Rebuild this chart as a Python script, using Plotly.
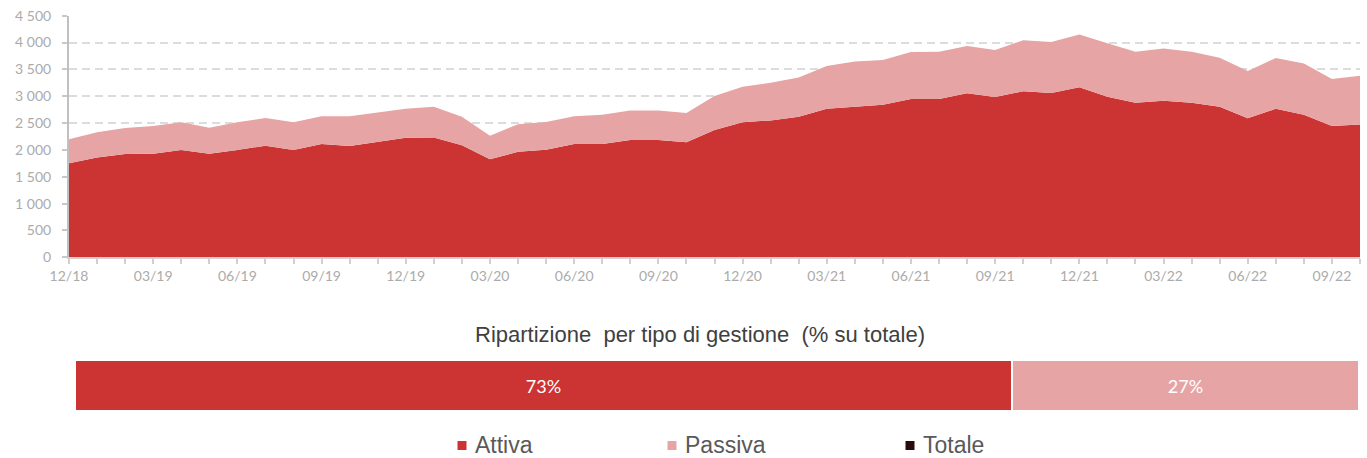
import plotly.graph_objects as go

W, H = 1367, 458

months = ["12/18",
          "01/19", "02/19", "03/19", "04/19", "05/19", "06/19", "07/19", "08/19", "09/19", "10/19", "11/19", "12/19",
          "01/20", "02/20", "03/20", "04/20", "05/20", "06/20", "07/20", "08/20", "09/20", "10/20", "11/20", "12/20",
          "01/21", "02/21", "03/21", "04/21", "05/21", "06/21", "07/21", "08/21", "09/21", "10/21", "11/21", "12/21",
          "01/22", "02/22", "03/22", "04/22", "05/22", "06/22", "07/22", "08/22", "09/22", "10/22"]

attiva = [1750, 1860, 1925, 1930, 2000, 1930, 2000, 2080, 2000, 2110, 2075, 2155, 2225,
          2230, 2085, 1825, 1965, 2005, 2110, 2110, 2185, 2185, 2145, 2370, 2515,
          2550, 2620, 2765, 2805, 2840, 2950, 2950, 3055, 2985, 3095, 3060, 3165,
          2990, 2880, 2915, 2880, 2805, 2590, 2765, 2655, 2445, 2475]
passiva = [450, 470, 485, 515, 515, 485, 515, 515, 515, 515, 550, 545, 540,
           575, 535, 440, 515, 515, 515, 545, 550, 550, 545, 635, 660,
           700, 730, 800, 840, 835, 875, 880, 880, 875, 950, 950, 985,
           995, 950, 975, 950, 910, 880, 945, 955, 875, 905]

quota_labels = ["Attiva", "Passiva"]
quota_values = [73, 27]

legend_labels = ["Attiva", "Passiva", "Totale"]

C_ATT = "#CC3333"
C_PAS = "#E6A4A4"
C_TOT = "#2B0A0A"

idx = list(range(len(months)))
ticktext = [m if i % 3 == 0 else "" for i, m in enumerate(months)]

fig = go.Figure()
fig.add_trace(go.Scatter(x=idx, y=attiva, name="Attiva", mode="lines", stackgroup="one",
                         line=dict(width=0, color=C_ATT), fillcolor=C_ATT, showlegend=False))
fig.add_trace(go.Scatter(x=idx, y=passiva, name="Passiva", mode="lines", stackgroup="one",
                         line=dict(width=0, color=C_PAS), fillcolor=C_PAS, showlegend=False))

bar_colors = [C_ATT, C_PAS]
for lab, val, col in zip(quota_labels, quota_values, bar_colors):
    fig.add_trace(go.Bar(x=[val], y=["q"], orientation="h", xaxis="x2", yaxis="y2",
                         marker=dict(color=col, line=dict(color="white", width=2)),
                         text=[f"{val}%"], textposition="inside", insidetextanchor="middle",
                         textfont=dict(color="white", size=18, family="Lato, sans-serif"),
                         showlegend=False, hoverinfo="skip"))

x0, x1 = 69 / W, 1360 / W
y0, y1 = (H - 257.3) / H, (H - 15.7) / H

fig.update_layout(
    width=W, height=H,
    margin=dict(l=0, r=0, t=0, b=0, autoexpand=False),
    paper_bgcolor="white", plot_bgcolor="white",
    separators=", ",
    showlegend=False,
    barmode="stack", bargap=0,
    xaxis=dict(domain=[x0, x1], range=[0, len(months) - 1], automargin=False,
               tickmode="array", tickvals=idx, ticktext=ticktext,
               ticks="outside", ticklen=5, tickcolor="#D0D0D0", tickwidth=1.5,
               showline=True, linecolor="#D0D0D0", linewidth=2,
               showgrid=False, zeroline=False,
               tickfont=dict(family="Lato, sans-serif", size=14, color="#ABABAB"),
               tickangle=0, fixedrange=True),
    yaxis=dict(domain=[y0, y1], range=[0, 4500], dtick=500, tickformat=",d", automargin=False,
               ticks="outside", ticklen=5, tickcolor="#C8C8C8", tickwidth=1.5,
               showline=True, linecolor="#C0C0C0", linewidth=2,
               showgrid=True, gridcolor="#DCDCDC", gridwidth=1.5, griddash="8px,5px",
               zeroline=False, ticklabelstandoff=8,
               tickfont=dict(family="Lato, sans-serif", size=14, color="#ABABAB")),
    xaxis2=dict(domain=[75 / W, 1359 / W], range=[0, 100], visible=False, fixedrange=True, automargin=False),
    yaxis2=dict(domain=[(H - 411) / H, (H - 360) / H], visible=False, anchor="x2", automargin=False),
)

fig.add_annotation(text="Ripartizione  per tipo di gestione  (% su totale)", xref="paper", yref="paper",
                   x=700 / W, y=(H - 334) / H, showarrow=False, xanchor="center", yanchor="middle",
                   font=dict(family="Liberation Sans Narrow, Arial Narrow, sans-serif", size=22, color="#404040"))

legend_sq_x = [462, 672, 910]
legend_cols = [C_ATT, C_PAS, C_TOT]
for lab, sx, col in zip(legend_labels, legend_sq_x, legend_cols):
    fig.add_shape(type="rect", xref="paper", yref="paper",
                  x0=(sx - 4.5) / W, x1=(sx + 4.5) / W, y0=(H - 450) / H, y1=(H - 441) / H,
                  fillcolor=col, line=dict(width=0))
    fig.add_annotation(text=lab, xref="paper", yref="paper", x=(sx + 11) / W, y=(H - 445) / H,
                       showarrow=False, xanchor="left", yanchor="middle",
                       font=dict(family="Liberation Sans Narrow, Arial Narrow, sans-serif", size=23, color="#595959"))

fig.write_html("out.html")
